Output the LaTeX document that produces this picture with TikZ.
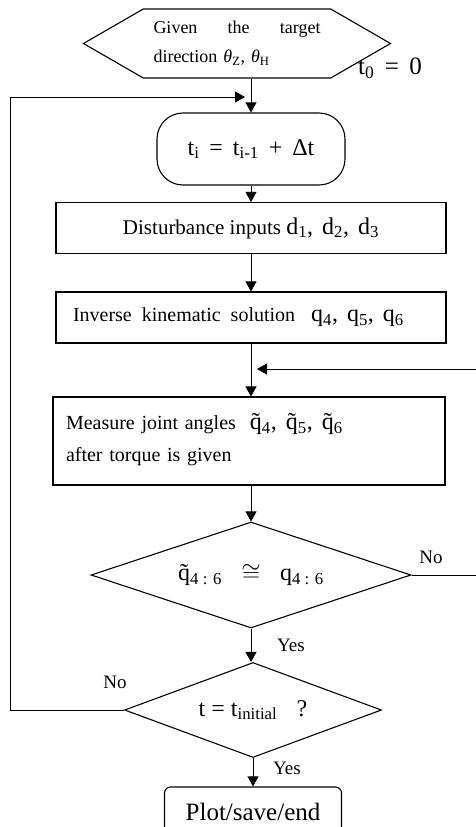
\documentclass[tikz,border=0pt]{standalone}
\usepackage{fontspec}
\setmainfont{Liberation Serif}
\usetikzlibrary{positioning, arrows.meta, shapes.geometric, shapes.symbols}
\newcommand{\tq}{\ooalign{q\cr\hidewidth\char"02DC\hidewidth\cr}}
\newcommand{\sep}{,\hspace{9pt}}

\begin{document}
\begin{tikzpicture}[x=1pt, y=-1pt,
  base/.style={draw, line width=1.1pt, inner sep=0pt, font=\fontsize{21}{32}\selectfont},
  block/.style={base, rectangle, minimum width=390pt, minimum height=51pt},
  decide/.style={base, diamond, aspect=3},
  hexa/.style={base, signal, signal to=west and east, signal pointer angle=60,
    minimum width=307pt, minimum height=69pt, text width=167pt, align=left,
    font=\fontsize{18}{29}\selectfont},
  link/.style={line width=0.9pt, -{Triangle[length=10pt, width=11pt]}},
  lbl/.style={font=\fontsize{19}{20}\selectfont},
  big/.style={font=\fontsize{24}{28}\selectfont},
]
  \useasboundingbox (0,0) rectangle (475,827);

  \node[hexa] (given) at (237,43.5)
    {Given\hfill the\hfill target\\direction \textit{θ}\textsubscript{Z}, \textit{θ}\textsubscript{H}};
  \node[font=\fontsize{25}{28}\selectfont] (tzero) at (390,68) {t\textsubscript{0} \,=\, 0};
  \node[base, big, rounded corners=26pt, minimum width=188pt, minimum height=72pt] (incr) at (251,149)
    {t\textsubscript{i} \,=\, t\textsubscript{i-1} \,+\, Δt};
  \node[block] (dist) at (251,228)
    {Disturbance inputs {\fontsize{24}{28}\selectfont d\textsubscript{1}\sep d\textsubscript{2}\sep d\textsubscript{3}}};
  \node[block, text width=356pt, align=left, font=\fontsize{20}{32}\selectfont] (inv) at (251,317.5)
    {\spaceskip=10pt\relax Inverse kinematic solution\hspace{16pt}{\fontsize{24}{28}\selectfont q\textsubscript{4}\sep q\textsubscript{5}\sep q\textsubscript{6}}};
  \node[block, minimum width=392pt, minimum height=88pt, text width=366pt, align=left,
    font=\fontsize{20}{32}\selectfont] (meas) at (249,441)
    {Measure joint angles\hspace{14pt}{\fontsize{24}{28}\selectfont \tq\textsubscript{4}\sep \tq\textsubscript{5}\sep \tq\textsubscript{6}}\\
     after torque is given};
  \node[decide, big, minimum width=320pt, minimum height=106pt] (match) at (251,575)
    {\tq\textsubscript{4 : 6}\;\; $\cong$\;\; q\textsubscript{4 : 6}};
  \node[decide, big, minimum width=257pt, minimum height=95pt] (finish) at (253,710)
    {t = t\textsubscript{initial}\;\; ?};
  \node[base, rounded corners=6pt, minimum width=177pt, minimum height=50pt,
    font=\fontsize{25}{28}\selectfont] (plot) at (253,812) {Plot/save/end};

  % loop ends
  \coordinate (top) at (245,97);
  \coordinate (mid) at (257,369);
  \coordinate (lc) at (10,97);
  \coordinate (rc) at (477,369);

  \draw[link] (given.south -| incr.north) -- (incr.north);
  \draw[link] (incr.south) -- (dist.north);
  \draw[link] (dist.south) -- (inv.north);
  \draw[link] (inv.south) -- (meas.north -| inv.south);
  \draw[link] (meas.south -| match.north) -- (match.north);
  \draw[link] (match.south) -- (match.south |- finish.north);
  \draw[link] (finish.south) -- (plot.north);
  \draw[link] (match.east) -| (rc) -- (mid);
  \draw[link] (finish.west) -| (lc) -- (top);

  \node[lbl] (no1) at (431,557) {No};
  \node[lbl] (yes1) at (291,645) {Yes};
  \node[lbl] (no2) at (115,682) {No};
  \node[lbl] (yes2) at (287,768) {Yes};
\end{tikzpicture}
\end{document}
